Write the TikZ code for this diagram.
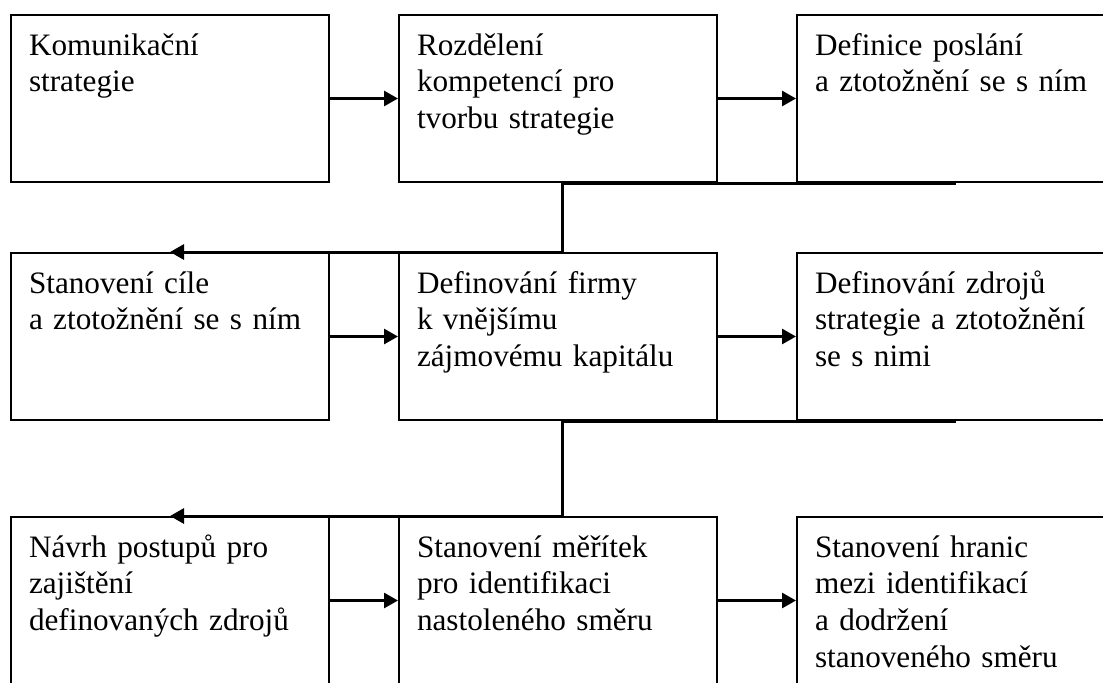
\documentclass[tikz,border=0pt]{standalone}
\usepackage{fontspec}
\setmainfont{Liberation Serif}
\usepackage{tikz}
\usetikzlibrary{arrows.meta, positioning}
\hyphenpenalty=10000

\begin{document}
\begin{tikzpicture}[
    node distance=34.5pt and 34pt,
    box/.style={rectangle, draw, line width=1pt, text width=141pt, align=left, inner xsep=9pt, inner ysep=0pt, text height=20pt, text depth=63.5pt, font=\fontsize{15.6pt}{18.4pt}\selectfont},
    arrow/.style={line width=1.4pt, -{Triangle[length=7pt, width=7.5pt]}},
    link/.style={line width=1.5pt, -{Triangle[length=7pt, width=7.5pt]}}
]
    \useasboundingbox (0,0) rectangle (551.5pt,-341pt);
    \clip (0,0) rectangle (551.5pt,-341pt);

    % Nodes - first row
    \node (komunikace) [box, anchor=north west] at (5pt,-7pt) {Komunikační\\strategie};
    \node (rozdeleni) [box, right=of komunikace] {Rozdělení\\kompetencí pro\\tvorbu strategie};
    \node (poslani) [box, right=39pt of rozdeleni] {Definice poslání\\a ztotožnění se s ním};

    % Nodes - second row
    \node (cil) [box, below=of komunikace] {Stanovení cíle\\a ztotožnění se s ním};
    \node (firma) [box, right=of cil] {Definování firmy\\k vnějšímu\\zájmovému kapitálu};
    \node (zdroje) [box, right=39pt of firma] {Definování zdrojů\\strategie a ztotožnění\\se s nimi};

    % Nodes - third row
    \node (postupy) [box, below=47.5pt of cil] {Návrh postupů pro\\zajištění\\definovaných zdrojů};
    \node (meritka) [box, right=of postupy] {Stanovení měřítek\\pro identifikaci\\nastoleného směru};
    \node (hranice) [box, right=39pt of meritka] {Stanovení hranic\\mezi identifikací\\a dodržení\\stanoveného směru};

    % Arrows
    \draw [arrow] (komunikace) -- (rozdeleni);
    \draw [arrow] (rozdeleni) -- (poslani);
    \draw [arrow] (cil) -- (firma);
    \draw [arrow] (firma) -- (zdroje);
    \draw [arrow] (postupy) -- (meritka);
    \draw [arrow] (meritka) -- (hranice);

    % Back to the next row
    \draw [link] (poslani.south) -- ++(-196.75pt,0) |- (cil.north);
    \draw [link] (zdroje.south) -- ++(-196.75pt,0) |- (postupy.north);

\end{tikzpicture}
\end{document}
